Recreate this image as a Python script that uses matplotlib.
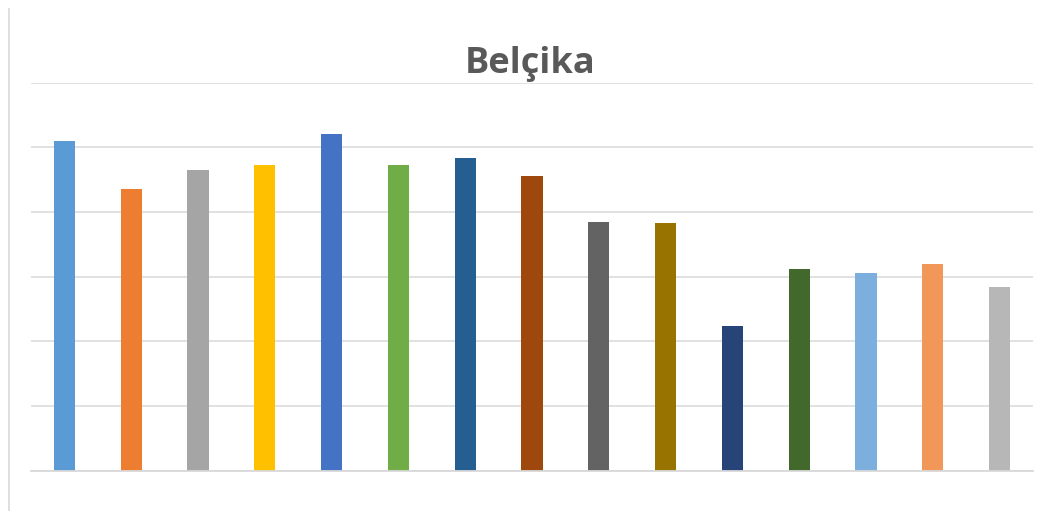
import matplotlib
matplotlib.use("Agg")
import matplotlib.pyplot as plt
from matplotlib.lines import Line2D

title = "Belçika"
categories = [str(i) for i in range(1, 16)]
values = [5.09, 4.35, 4.65, 4.72, 5.20, 4.73, 4.84, 4.55, 3.84, 3.82, 2.23, 3.12, 3.05, 3.20, 2.83]
colors = ["#5B9BD5", "#ED7D31", "#A5A5A5", "#FFC000", "#4472C4", "#70AD47", "#255E91",
          "#9E480E", "#636363", "#997300", "#264478", "#43682B", "#7CAFDD", "#F1975A", "#B7B7B7"]
yticks = [0, 1, 2, 3, 4, 5, 6]

W, H = 1055, 511
fig = plt.figure(figsize=(W / 100, H / 100), dpi=100)
ax = fig.add_axes([31 / W, 40.5 / H, (1033 - 31) / W, 388 / H])

x = list(range(len(values)))
ax.bar(x, values, width=0.315, color=colors, zorder=3)
ax.set_xlim(-0.5, len(values) - 0.5)
ax.set_ylim(0, 6)
ax.set_yticks(yticks)
ax.grid(axis="y", color="#D9D9D9", linewidth=1.1, zorder=0)
ax.tick_params(left=False, bottom=False, labelleft=False, labelbottom=False)
for s in ["top", "right", "left"]:
    ax.spines[s].set_visible(False)
ax.spines["bottom"].set_color("#D9D9D9")
ax.spines["bottom"].set_linewidth(1.3)
ax.spines["bottom"].set_zorder(4)

fig.text(530 / W, 1 - 64 / H, title, ha="center", va="center", fontsize=26,
         fontweight="bold", color="#595959", family=["Open Sans", "DejaVu Sans"])

fig.add_artist(Line2D([8.5 / W, 8.5 / W], [1 - 9 / H, 0], color="#D9D9D9", linewidth=1.2,
                      transform=fig.transFigure))

fig.savefig("out.png", dpi=100, facecolor="white")
